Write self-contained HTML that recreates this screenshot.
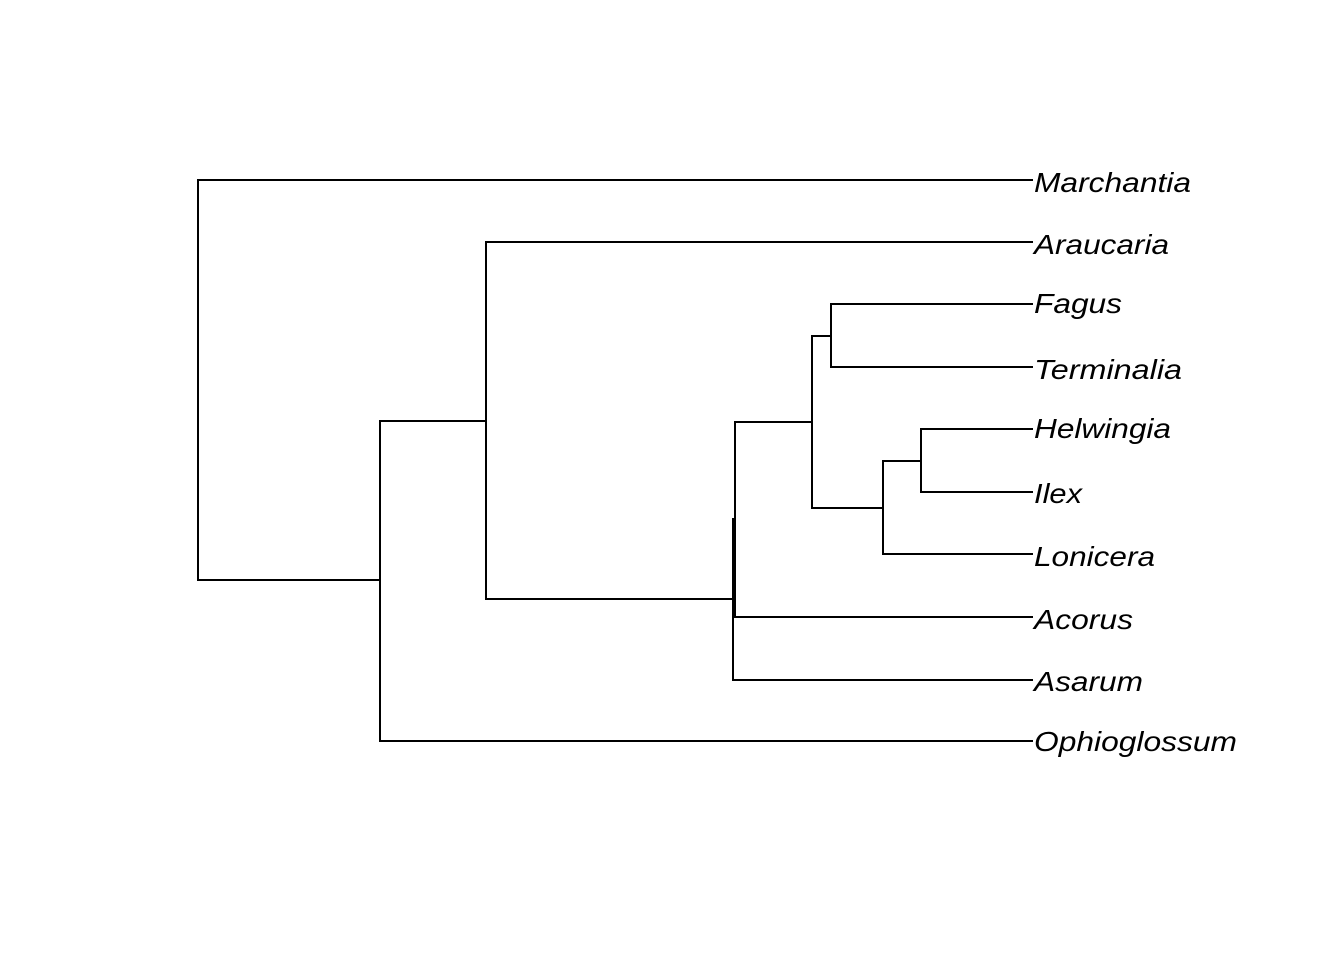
<!DOCTYPE html>
<html><head><meta charset="utf-8"><style>html,body{margin:0;padding:0;background:#fff;}</style></head>
<body>
<svg width="1344" height="960" xmlns="http://www.w3.org/2000/svg">
<g stroke="#000" stroke-width="2" fill="none" stroke-linecap="square">
<path d="M198 180V580M198 180H1032M198 580H380"/>
<path d="M380 421V741M380 741H1032M380 421H486"/>
<path d="M486 242V599M486 242H1032M486 599H733"/>
<path d="M733 519V680M733 680H1032"/>
<path d="M735 422V617M735 617H1032M735 422H812"/>
<path d="M812 336V508M812 336H831M812 508H883"/>
<path d="M831 304V367M831 304H1032M831 367H1032"/>
<path d="M883 461V554M883 554H1032M883 461H921"/>
<path d="M921 429V492M921 429H1032M921 492H1032"/>
</g>
<g font-family="Liberation Sans, sans-serif" font-style="italic" font-size="28" fill="#000">
<text x="1034" y="192" textLength="157" lengthAdjust="spacingAndGlyphs">Marchantia</text>
<text x="1034" y="254" textLength="135" lengthAdjust="spacingAndGlyphs">Araucaria</text>
<text x="1034" y="313" textLength="88" lengthAdjust="spacingAndGlyphs">Fagus</text>
<text x="1034" y="379" textLength="148" lengthAdjust="spacingAndGlyphs">Terminalia</text>
<text x="1034" y="438" textLength="137" lengthAdjust="spacingAndGlyphs">Helwingia</text>
<text x="1034" y="503" textLength="48" lengthAdjust="spacingAndGlyphs">Ilex</text>
<text x="1034" y="566" textLength="121" lengthAdjust="spacingAndGlyphs">Lonicera</text>
<text x="1034" y="629" textLength="99" lengthAdjust="spacingAndGlyphs">Acorus</text>
<text x="1034" y="691" textLength="109" lengthAdjust="spacingAndGlyphs">Asarum</text>
<text x="1034" y="751" textLength="203" lengthAdjust="spacingAndGlyphs">Ophioglossum</text>
</g>
</svg>
</body></html>
